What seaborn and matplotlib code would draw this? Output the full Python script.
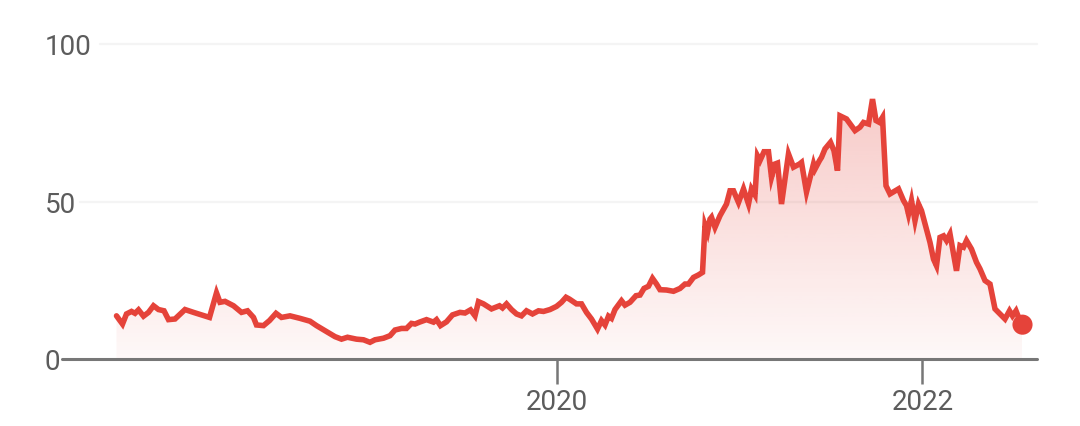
import numpy as np
import pandas as pd
import matplotlib
matplotlib.use("Agg")
import matplotlib.pyplot as plt
import matplotlib.dates as mdates
from matplotlib.colors import to_rgb
import seaborn as sns

# ---- data ----
days_since_2020 = [
    -881, -869, -861, -851, -844, -837, -827, -817, -807, -797, -786, -777, -764, -744, -727, -711, -695,
    -681, -674, -664, -647, -631, -619, -607, -601, -587,
    -575, -562, -551, -534, -514, -494, -481, -461, -444, -431, -419, -401, -387, -374, -364, -347, -334,
    -324, -311, -301, -291, -284, -275,
    -261, -247, -241, -233, -221, -209, -194, -184, -173, -164, -157, -147, -131, -115, -109, -101, -91,
    -81, -71, -61, -49, -37, -27, -14, -1, 9, 18, 25,
    39, 49, 59, 69, 81, 89, 96, 103, 109, 116, 129, 136, 146, 158, 166, 174, 183, 191, 199, 206, 219,
    233, 246, 256, 263, 273, 283, 291, 296, 301, 306,
    309, 316, 326, 339, 346, 353, 363, 373, 383, 389, 396, 401, 406, 414, 423, 429, 436, 441, 449, 463,
    473, 485, 489, 499, 513, 516, 525, 529, 536, 547, 554, 561, 566,
    579, 596, 606, 613, 623, 631, 638, 645, 651, 658, 666, 683, 693, 699, 703, 709, 716, 723, 729, 746,
    753, 759, 766, 773, 779, 786, 793, 799, 806, 813, 819, 829, 839, 846, 856, 866, 876, 886, 896, 905,
    911, 918, 925, 931,
]
price = [
    13.7, 11.1, 14.3, 15.1, 14.5, 15.6, 13.6, 14.8, 16.9, 15.7, 15.3, 12.5, 12.7, 15.7, 14.8, 14.0, 13.2,
    21.0, 18.0, 18.3, 16.9, 14.8, 15.3, 13.2, 10.8, 10.6,
    12.2, 14.5, 13.2, 13.7, 12.9, 12.0, 10.6, 8.7, 7.1, 6.3, 6.9, 6.3, 6.1, 5.3, 6.1, 6.6, 7.4,
    9.2, 9.7, 9.7, 11.3, 11.1, 11.7,
    12.5, 11.7, 12.5, 10.6, 11.8, 14.0, 14.8, 14.6, 15.6, 13.7, 18.2, 17.5, 15.9, 16.9, 16.2, 17.5, 15.7,
    14.3, 13.7, 15.3, 14.3, 15.3, 15.1, 15.7, 16.7, 18.0, 19.6, 19.0,
    17.5, 17.5, 14.8, 12.7, 9.5, 12.2, 10.8, 13.6, 12.9, 15.7, 18.5, 17.1, 18.0, 20.1, 20.3, 22.4, 23.1,
    25.6, 23.8, 22.0, 21.9, 21.5, 22.4, 23.8, 23.8, 25.9, 26.7, 27.5, 42.5, 40.2, 44.4,
    45.0, 41.8, 45.5, 49.2, 53.4, 53.4, 49.7, 54.0, 49.2, 54.0, 52.1, 64.5, 63.0, 65.8, 65.8, 57.7, 61.9,
    62.2, 49.2, 65.1, 60.9, 61.9, 62.4, 53.0, 61.9, 60.3, 63.0, 64.0, 66.7, 68.8, 66.1, 59.8, 77.2,
    76.2, 72.5, 73.6, 75.1, 74.6, 82.5, 75.7, 75.1, 76.7, 55.0, 52.4, 54.0, 50.3, 48.7, 46.0, 50.3, 43.9,
    49.2, 47.1, 37.0, 31.7, 29.6, 38.6, 39.1, 37.6, 39.7, 33.3, 28.0, 36.0, 35.5, 37.6, 34.9, 30.7, 28.6,
    24.9, 23.8, 15.9, 14.3, 12.7, 15.3, 13.7, 15.3, 12.5, 10.9,
]
y_ticks = [0, 50, 100]
y_tick_labels = ["0", "50", "100"]
x_tick_years = [2020, 2022]

# ---- style ----
sns.set_theme(style="white")
plt.rcParams["font.family"] = ["Roboto", "DejaVu Sans"]

RED = "#e5433a"
GRID = "#f4f4f4"
AXIS = "#777777"
TEXT = "#5c5c5c"

base = pd.Timestamp("2020-01-01")
df = pd.DataFrame({
    "date": base + pd.to_timedelta(days_since_2020, unit="D"),
    "price": price,
})

fig = plt.figure(figsize=(10.8, 4.27), dpi=100)
W, H = 1080, 427
ax = fig.add_axes([100 / W, (H - 360) / H, 937 / W, 315 / H])
ax.set_facecolor("white")

# gradient fill under the line
poly = ax.fill_between(df["date"], 0, df["price"], facecolor="none", edgecolor="none")
xs = mdates.date2num(df["date"])
ymax = df["price"].max()
n = 256
img = np.zeros((n, 1, 4))
img[..., :3] = to_rgb(RED)
img[:, 0, 3] = np.linspace(0.035, 0.28, n)
im = ax.imshow(img, extent=[xs.min(), xs.max(), 0, ymax], origin="lower",
               aspect="auto", zorder=1, interpolation="bilinear")
im.set_clip_path(poly.get_paths()[0], transform=ax.transData)

# line
sns.lineplot(data=df, x="date", y="price", ax=ax, color=RED, linewidth=4.0,
             estimator=None, zorder=3)
ax.lines[-1].set_solid_joinstyle("miter")

# end dot
last = df.iloc[[-1]]
sns.scatterplot(data=last, x="date", y="price", ax=ax, color=RED, s=210,
                edgecolor="none", zorder=4)

# limits
ax.set_xlim(base + pd.Timedelta(days=-914), base + pd.Timedelta(days=960))
ax.set_ylim(0, 100)

# gridlines and baseline
ax.axhline(100, xmin=0, xmax=1, color=GRID, lw=1.6, clip_on=False, zorder=0)
ax.axhline(50, xmin=-20 / 937, xmax=1, color=GRID, lw=1.6, clip_on=False, zorder=0)
ax.axhline(0, xmin=-38 / 937, xmax=1, color=AXIS, lw=2.2, clip_on=False, zorder=5)

for s in ax.spines.values():
    s.set_visible(False)

ax.set_yticks(y_ticks)
ax.set_yticklabels(y_tick_labels, fontsize=20, color=TEXT)
for lab in ax.get_yticklabels():
    lab.set_ha("left")
ax.tick_params(axis="y", left=False, length=0, pad=39.6)

ax.set_xticks([pd.Timestamp(f"{y}-01-01") for y in x_tick_years])
ax.set_xticklabels([str(y) for y in x_tick_years], fontsize=20, color=TEXT)
ax.tick_params(axis="x", bottom=True, length=18, width=1.8, color=AXIS, pad=3,
               direction="out")
ax.set_xlabel("")
ax.set_ylabel("")
ax.grid(False)

fig.savefig("out.png", dpi=100, facecolor="white")
